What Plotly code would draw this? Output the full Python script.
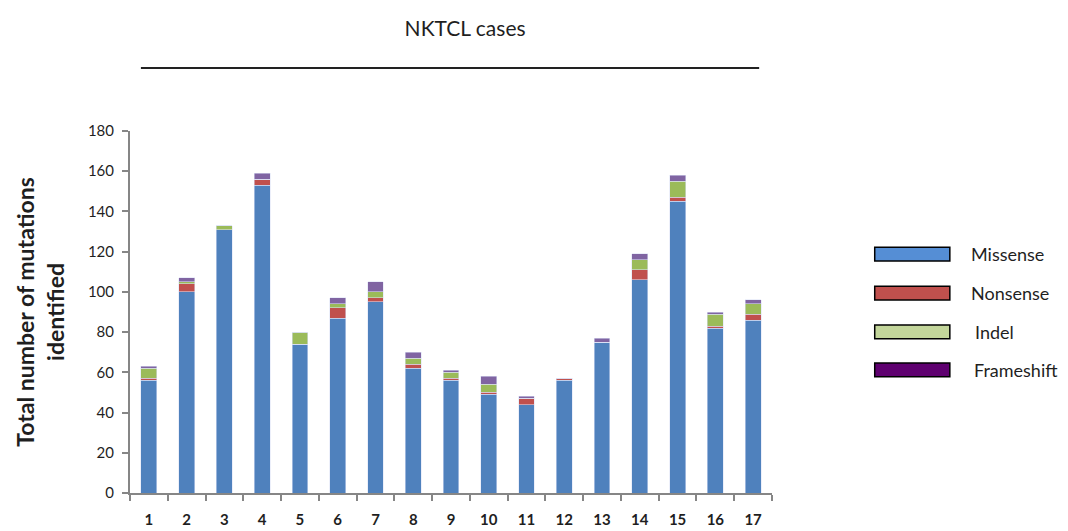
import plotly.graph_objects as go

# NKTCL cases, number of mutations per case by type
cases = [str(i) for i in range(1, 18)]
missense = [56, 100, 131, 153, 74, 87, 95, 62, 56, 49, 44, 56, 75, 106, 145, 82, 86]
nonsense = [1, 4, 0, 3, 0, 5, 2, 2, 1, 1, 3, 1, 0, 5, 2, 1, 3]
indel = [5, 1, 2, 0, 6, 2, 3, 3, 3, 4, 0, 0, 0, 5, 8, 6, 5]
frameshift = [1, 2, 0, 3, 0, 3, 5, 3, 1, 4, 1, 0, 2, 3, 3, 1, 2]

series_names = ['Missense', 'Nonsense', 'Indel', 'Frameshift']
bar_colors = ['#4F81BD', '#C0504D', '#9BBB59', '#8064A2']
legend_colors = ['#558ED5', '#C0504D', '#C3D69B', '#5F0070']

FONT = 'Lato'

fig = go.Figure()
for name, vals, col in zip(series_names, [missense, nonsense, indel, frameshift], bar_colors):
    fig.add_trace(go.Bar(
        x=cases, y=vals, name=name,
        marker=dict(color=col, line=dict(color='rgba(220,225,245,0.9)', width=0.6)),
        showlegend=False,
    ))

# legend drawn as wide outlined swatches like the original
legend_y = [0.660, 0.552, 0.445, 0.340]
legend_text_x = [1.307, 1.307, 1.313, 1.311]
shapes = []
annotations = []
for name, col, yy, tx in zip(series_names, legend_colors, legend_y, legend_text_x):
    shapes.append(dict(type='rect', xref='paper', yref='paper',
                       x0=1.160, x1=1.277, y0=yy - 0.019, y1=yy + 0.019,
                       fillcolor=col, line=dict(color='black', width=1.5)))
    annotations.append(dict(text=name, xref='paper', yref='paper', x=tx, y=yy,
                            xanchor='left', yanchor='middle', showarrow=False,
                            font=dict(family=FONT, size=18, color='#1f1f1f')))

# line under the title
shapes.append(dict(type='line', xref='paper', yref='paper', x0=0.017, x1=0.980,
                   y0=1.174, y1=1.174, line=dict(color='#222222', width=2)))

# page has an 8px body margin, so the figure is shifted by 8px
fig.update_layout(
    barmode='stack',
    bargap=0.58,
    width=1068, height=531,
    margin=dict(l=122, r=304, t=123, b=46),
    plot_bgcolor='white', paper_bgcolor='white',
    font=dict(family=FONT, color='#1f1f1f'),
    title=dict(text='NKTCL cases', x=0.428, xanchor='center', y=0.962, yanchor='middle',
               font=dict(family=FONT, size=21, color='#1f1f1f')),
    xaxis=dict(type='category', showline=True, linecolor='#868686', linewidth=2,
               ticks='outside', tickson='boundaries', ticklen=6, tickcolor='#868686',
               tickwidth=2, showgrid=False, ticklabelstandoff=12,
               tickfont=dict(family=FONT, size=15, color='#1f1f1f', weight='bold')),
    yaxis=dict(range=[0, 180], dtick=20, showline=True, linecolor='#868686', linewidth=2,
               ticks='outside', ticklen=6, tickcolor='#868686', tickwidth=2, showgrid=False,
               zeroline=False, ticklabelstandoff=5,
               tickfont=dict(family=FONT, size=15, color='#1f1f1f'),
               title=dict(text='Total number of mutations<br>identified', standoff=17,
                          font=dict(family=FONT, size=23, color='#1f1f1f', weight='bold'))),
    shapes=shapes,
    annotations=annotations,
)

fig.write_html('out.html')
